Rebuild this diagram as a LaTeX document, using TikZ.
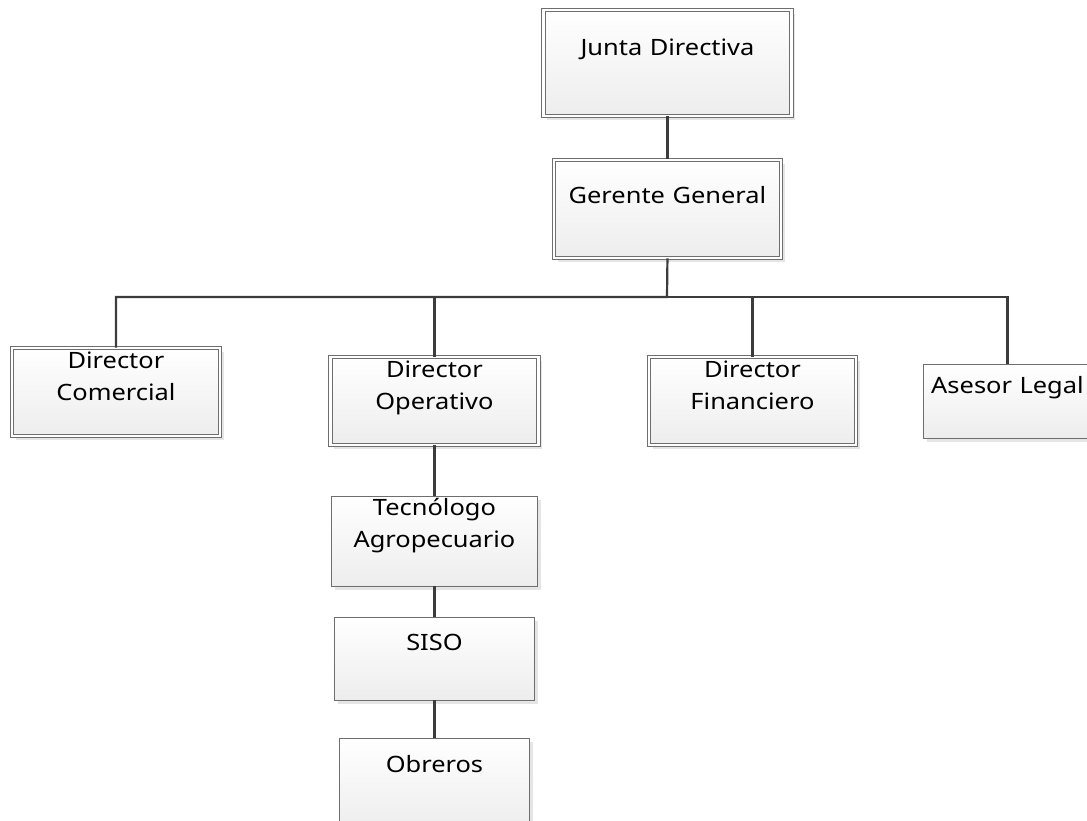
\documentclass[tikz,border=0pt]{standalone}
\usepackage{fontspec}
\setmainfont[FakeStretch=1.13]{Noto Sans}
\usepackage{xcolor}
\usepackage{tikz}
\usetikzlibrary{shadows}

\definecolor{borde}{HTML}{6E6E6E}
\definecolor{linea}{HTML}{3C3C3C}
\definecolor{fondo}{HTML}{EDEDED}

\begin{document}
\begin{tikzpicture}[x=1pt,y=-1pt]
						\tikzstyle{cargo}=[draw=borde,line width=0.9pt,inner sep=0pt,align=center,anchor=north west,top color=white,bottom color=fondo,drop shadow={shadow xshift=4pt,shadow yshift=-4pt,fill=black!10,opacity=1},font=\fontsize{22.5}{32}\selectfont]
						\tikzstyle{doble}=[double=white,double distance=2.6pt]
						\tikzstyle{enlace}=[draw=linea,line width=2.2pt]
						\useasboundingbox (0,0) rectangle (1087,821);
						\node[cargo,doble,text width=248pt,text height=45.5pt,text depth=60.5pt](junta) at (543,9.5) {Junta Directiva};
						\node[cargo,doble,text width=227pt,text height=43.5pt,text depth=54.5pt](gerente) at (553.5,159.5) {Gerente General};
						\node[cargo,doble,text width=208pt,text height=20.5pt,text depth=67.5pt](dcom) at (11.5,347.5) {Director\\Comercial};
						\node[cargo,doble,text width=208pt,text height=20.5pt,text depth=67.5pt](dope) at (330,356.5) {Director\\Operativo};
						\node[cargo,doble,text width=207pt,text height=20.5pt,text depth=67.5pt](dfin) at (648.5,356.5) {Director\\Financiero};
						\node[cargo,text width=169pt,text height=29.5pt,text depth=44.5pt](asesor) at (922.5,363.5) {Asesor Legal};
						\node[cargo,text width=206pt,text height=19.5pt,text depth=70.5pt](tecno) at (331,495.5) {Tecnólogo\\Agropecuario};
						\node[cargo,text width=200pt,text height=33.5pt,text depth=49.5pt](siso) at (334,616.5) {SISO};
						\node[cargo,text width=190pt,text height=34.5pt,text depth=58pt](obreros) at (339,737.5) {Obreros};
						\coordinate (bus) at (667,297);
						\draw[enlace](junta.south) -- (gerente.north);
						\draw[enlace](gerente.south) -- (bus) -| (dcom.north);
						\draw[enlace](bus) -| (dope.north);
						\draw[enlace](bus) -| (dfin.north);
						\draw[enlace](bus) -| (asesor.north);
						\draw[enlace](dope.south) -- (tecno.north);
						\draw[enlace](tecno.south) -- (siso.north);
						\draw[enlace](siso.south) -- (obreros.north);
					\end{tikzpicture}
\end{document}
